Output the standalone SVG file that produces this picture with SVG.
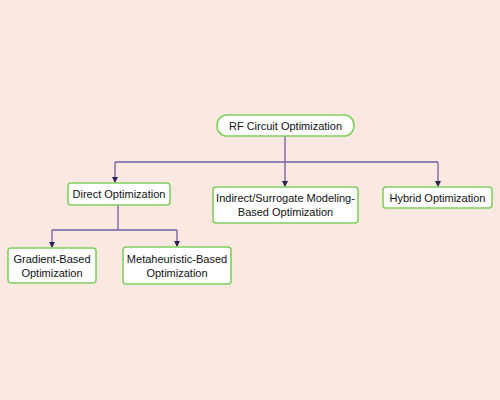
<svg xmlns="http://www.w3.org/2000/svg" width="500" height="400" viewBox="0 0 500 400">
<defs>
<marker id="arr" viewBox="0 0 6 6" refX="5" refY="3" markerWidth="5" markerHeight="5" orient="auto">
<path d="M0,0 L6,3 L0,6 z" fill="#2a2250"/>
</marker>
<style>
.box{fill:#ffffff;stroke:#7fd05e;stroke-width:1.6}
.t{font-family:"Liberation Sans",Arial,sans-serif;font-size:11px;fill:#111;text-anchor:middle}
.c{fill:none;stroke:#6f5fa5;stroke-width:1.3}
</style>
</defs>
<rect width="500" height="400" fill="#fbe8e0"/>
<g id="connectors">
<path class="c" d="M285,136 V162"/>
<path class="c" d="M115,162 H438"/>
<path class="c" d="M115,162 V182" marker-end="url(#arr)"/>
<path class="c" d="M285,162 V186" marker-end="url(#arr)"/>
<path class="c" d="M438,162 V186" marker-end="url(#arr)"/>
<path class="c" d="M118,205 V230"/>
<path class="c" d="M52,230 H177"/>
<path class="c" d="M52,230 V247" marker-end="url(#arr)"/>
<path class="c" d="M177,230 V246" marker-end="url(#arr)"/>
</g>
<g id="root">
<rect class="box" x="217" y="115" width="137" height="21" rx="10"/>
<text class="t" x="285.5" y="130">RF Circuit Optimization</text>
</g>
<g id="direct">
<rect class="box" x="68" y="183" width="102" height="22" rx="3"/>
<text class="t" x="119" y="198">Direct Optimization</text>
</g>
<g id="indirect">
<rect class="box" x="213" y="187" width="145" height="36" rx="3"/>
<text class="t" x="285.5" y="202">Indirect/Surrogate Modeling-</text>
<text class="t" x="285.5" y="215.5">Based Optimization</text>
</g>
<g id="hybrid">
<rect class="box" x="383" y="187" width="109" height="21" rx="3"/>
<text class="t" x="437.5" y="201.5">Hybrid Optimization</text>
</g>
<g id="gradient">
<rect class="box" x="8" y="248" width="88" height="35" rx="3"/>
<text class="t" x="52" y="263">Gradient-Based</text>
<text class="t" x="52" y="277">Optimization</text>
</g>
<g id="meta">
<rect class="box" x="123" y="247" width="108" height="37" rx="3"/>
<text class="t" x="177" y="263">Metaheuristic-Based</text>
<text class="t" x="177" y="277">Optimization</text>
</g>
</svg>
